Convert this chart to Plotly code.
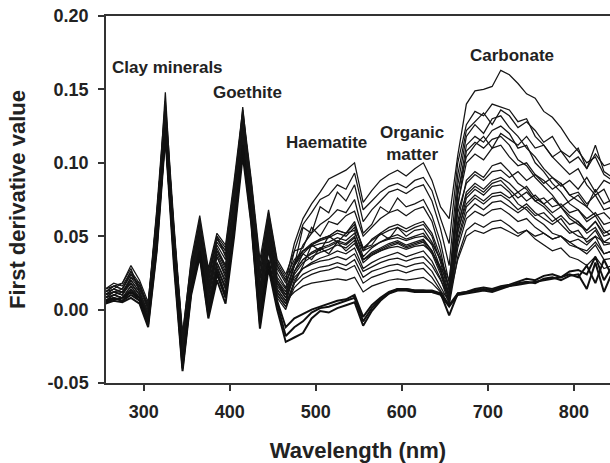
import plotly.graph_objects as go

wavelength = [255, 265, 275, 285, 295, 305, 315, 325, 335, 345, 355, 365, 375, 385, 395,
              405, 415, 425, 435, 445, 455, 465, 475, 485, 495, 505, 515, 525, 535, 545,
              555, 565, 575, 585, 595, 605, 615, 625, 635, 645, 655, 665, 675, 685, 695,
              705, 715, 725, 735, 745, 755, 765, 775, 785, 795, 805, 815, 825, 835, 845]

s01 = [0.012, 0.016, 0.014, 0.024, 0.016, 0.002, 0.062, 0.140, 0.052, -0.020, 0.030, 0.058, 0.022, 0.048, 0.040, 0.085, 0.134, 0.085, 0.030, 0.065, 0.030, 0.020,
       0.045, 0.062, 0.072, 0.080, 0.089, 0.092, 0.095, 0.100, 0.073,
       0.081, 0.088, 0.092, 0.095, 0.091, 0.096, 0.100, 0.088, 0.070, 0.062,
       0.105, 0.140, 0.149, 0.150, 0.152, 0.163, 0.160, 0.154, 0.147, 0.144, 0.135, 0.131, 0.124, 0.115, 0.108, 0.100, 0.104, 0.092, 0.088]
s02 = [0.010, 0.014, 0.018, 0.028, 0.012, -0.004, 0.058, 0.148, 0.048, -0.030, 0.022, 0.052, 0.012, 0.040, 0.030, 0.078, 0.138, 0.080, 0.020, 0.060, 0.025, 0.015,
       0.040, 0.058, 0.066, 0.075, 0.078, 0.085, 0.082, 0.093, 0.068,
       0.074, 0.080, 0.084, 0.086, 0.083, 0.088, 0.090, 0.081, 0.062, 0.045,
       0.100, 0.126, 0.135, 0.132, 0.140, 0.138, 0.136, 0.128, 0.130, 0.118, 0.112, 0.104, 0.098, 0.092, 0.096, 0.085, 0.078, 0.082, 0.070]
s03 = [0.008, 0.012, 0.010, 0.022, 0.018, 0.000, 0.066, 0.132, 0.056, -0.025, 0.028, 0.062, 0.018, 0.050, 0.036, 0.070, 0.128, 0.076, 0.012, 0.056, 0.020, 0.012,
       0.030, 0.056, 0.052, 0.070, 0.066, 0.080, 0.074, 0.085, 0.060,
       0.068, 0.074, 0.080, 0.082, 0.079, 0.083, 0.085, 0.074, 0.055, 0.030,
       0.092, 0.122, 0.128, 0.134, 0.126, 0.136, 0.132, 0.124, 0.128, 0.122, 0.114, 0.118, 0.108, 0.104, 0.110, 0.096, 0.112, 0.094, 0.090]
s04 = [0.006, 0.010, 0.012, 0.018, 0.010, -0.006, 0.050, 0.124, 0.040, -0.035, 0.018, 0.046, 0.008, 0.036, 0.024, 0.066, 0.122, 0.072, 0.008, 0.052, 0.018, 0.010,
       0.030, 0.044, 0.052, 0.058, 0.062, 0.068, 0.066, 0.075, 0.052,
       0.058, 0.070, 0.066, 0.076, 0.070, 0.072, 0.075, 0.064, 0.046, 0.018,
       0.085, 0.118, 0.126, 0.120, 0.130, 0.132, 0.124, 0.118, 0.110, 0.104, 0.096, 0.090, 0.086, 0.078, 0.074, 0.070, 0.064, 0.066, 0.060]
s05 = [0.014, 0.018, 0.016, 0.026, 0.014, 0.004, 0.068, 0.142, 0.058, -0.018, 0.034, 0.064, 0.028, 0.052, 0.044, 0.088, 0.136, 0.088, 0.034, 0.068, 0.034, 0.024,
       0.040, 0.042, 0.056, 0.050, 0.060, 0.058, 0.064, 0.067, 0.050,
       0.056, 0.062, 0.066, 0.068, 0.064, 0.068, 0.070, 0.060, 0.040, 0.012,
       0.078, 0.112, 0.118, 0.114, 0.122, 0.125, 0.120, 0.110, 0.112, 0.100, 0.094, 0.086, 0.080, 0.072, 0.068, 0.060, 0.064, 0.054, 0.050]
s06 = [0.008, 0.010, 0.008, 0.016, 0.008, -0.008, 0.046, 0.120, 0.036, -0.038, 0.014, 0.040, 0.002, 0.028, 0.014, 0.058, 0.112, 0.066, 0.000, 0.044, 0.012, 0.004,
       0.026, 0.038, 0.044, 0.048, 0.050, 0.054, 0.052, 0.060, 0.040,
       0.048, 0.052, 0.056, 0.058, 0.055, 0.058, 0.060, 0.052, 0.036, 0.015,
       0.080, 0.104, 0.112, 0.118, 0.110, 0.120, 0.116, 0.112, 0.118, 0.110, 0.112, 0.104, 0.108, 0.100, 0.104, 0.096, 0.106, 0.098, 0.100]
s07 = [0.012, 0.014, 0.012, 0.020, 0.012, -0.002, 0.056, 0.136, 0.046, -0.028, 0.024, 0.054, 0.016, 0.044, 0.034, 0.074, 0.130, 0.078, 0.016, 0.058, 0.022, 0.014,
       0.030, 0.040, 0.045, 0.048, 0.050, 0.054, 0.052, 0.058, 0.042,
       0.047, 0.051, 0.054, 0.056, 0.053, 0.056, 0.058, 0.050, 0.032, 0.010,
       0.070, 0.108, 0.114, 0.110, 0.116, 0.118, 0.112, 0.102, 0.098, 0.090, 0.084, 0.078, 0.070, 0.064, 0.060, 0.052, 0.056, 0.046, 0.045]
s08 = [0.010, 0.012, 0.014, 0.024, 0.016, 0.002, 0.060, 0.128, 0.050, -0.022, 0.026, 0.056, 0.020, 0.046, 0.038, 0.080, 0.126, 0.082, 0.022, 0.062, 0.028, 0.018,
       0.032, 0.040, 0.044, 0.047, 0.049, 0.052, 0.050, 0.056, 0.042,
       0.044, 0.052, 0.048, 0.056, 0.050, 0.054, 0.055, 0.046, 0.034, 0.014,
       0.072, 0.100, 0.106, 0.102, 0.110, 0.112, 0.104, 0.098, 0.100, 0.092, 0.088, 0.082, 0.086, 0.078, 0.080, 0.072, 0.078, 0.068, 0.070]
s09 = [0.006, 0.008, 0.006, 0.014, 0.006, -0.010, 0.044, 0.116, 0.034, -0.040, 0.012, 0.038, -0.002, 0.024, 0.010, 0.054, 0.108, 0.062, -0.006, 0.040, 0.008, 0.000,
       0.018, 0.030, 0.044, 0.040, 0.050, 0.046, 0.052, 0.054, 0.036,
       0.042, 0.046, 0.049, 0.051, 0.048, 0.050, 0.052, 0.044, 0.028, 0.008,
       0.060, 0.088, 0.094, 0.090, 0.098, 0.100, 0.094, 0.086, 0.082, 0.074, 0.070, 0.064, 0.058, 0.052, 0.054, 0.046, 0.050, 0.038, 0.040]
s10 = [0.014, 0.016, 0.018, 0.030, 0.020, 0.005, 0.064, 0.138, 0.054, -0.016, 0.032, 0.060, 0.026, 0.050, 0.042, 0.084, 0.132, 0.086, 0.028, 0.066, 0.032, 0.022,
       0.034, 0.040, 0.043, 0.045, 0.046, 0.049, 0.047, 0.052, 0.040,
       0.043, 0.046, 0.048, 0.049, 0.047, 0.049, 0.050, 0.045, 0.034, 0.020,
       0.066, 0.086, 0.092, 0.088, 0.094, 0.095, 0.090, 0.094, 0.088, 0.092, 0.086, 0.090, 0.084, 0.088, 0.082, 0.090, 0.080, 0.088, 0.085]
s11 = [0.008, 0.012, 0.010, 0.018, 0.010, -0.004, 0.052, 0.126, 0.044, -0.032, 0.020, 0.050, 0.010, 0.038, 0.026, 0.068, 0.120, 0.070, 0.010, 0.050, 0.016, 0.008,
       0.026, 0.034, 0.039, 0.042, 0.044, 0.047, 0.045, 0.050, 0.034,
       0.039, 0.042, 0.045, 0.047, 0.044, 0.046, 0.048, 0.040, 0.026, 0.006,
       0.056, 0.080, 0.086, 0.082, 0.088, 0.090, 0.086, 0.080, 0.084, 0.076, 0.072, 0.066, 0.070, 0.062, 0.058, 0.054, 0.060, 0.050, 0.052]
s12 = [0.010, 0.014, 0.012, 0.022, 0.014, 0.000, 0.058, 0.130, 0.048, -0.026, 0.026, 0.056, 0.014, 0.042, 0.030, 0.072, 0.124, 0.074, 0.014, 0.054, 0.020, 0.010,
       0.026, 0.034, 0.038, 0.041, 0.043, 0.046, 0.044, 0.049, 0.034,
       0.038, 0.041, 0.044, 0.046, 0.043, 0.045, 0.047, 0.040, 0.027, 0.010,
       0.058, 0.078, 0.084, 0.080, 0.086, 0.088, 0.082, 0.076, 0.080, 0.074, 0.076, 0.070, 0.072, 0.066, 0.068, 0.062, 0.066, 0.058, 0.060]
s13 = [0.006, 0.010, 0.008, 0.016, 0.008, -0.006, 0.048, 0.122, 0.040, -0.034, 0.016, 0.044, 0.006, 0.032, 0.020, 0.062, 0.116, 0.068, 0.004, 0.046, 0.014, 0.006,
       0.024, 0.032, 0.036, 0.039, 0.041, 0.044, 0.042, 0.047, 0.032,
       0.037, 0.040, 0.043, 0.045, 0.042, 0.044, 0.046, 0.038, 0.024, 0.006,
       0.052, 0.076, 0.082, 0.078, 0.084, 0.085, 0.080, 0.072, 0.068, 0.062, 0.058, 0.052, 0.050, 0.046, 0.042, 0.038, 0.044, 0.034, 0.035]
s14 = [0.012, 0.016, 0.014, 0.026, 0.018, 0.003, 0.062, 0.134, 0.052, -0.020, 0.030, 0.058, 0.024, 0.048, 0.040, 0.082, 0.128, 0.080, 0.024, 0.064, 0.030, 0.020,
       0.030, 0.038, 0.034, 0.042, 0.038, 0.046, 0.040, 0.045, 0.034,
       0.037, 0.040, 0.042, 0.043, 0.041, 0.043, 0.044, 0.039, 0.029, 0.016,
       0.054, 0.072, 0.078, 0.074, 0.079, 0.080, 0.076, 0.080, 0.074, 0.078, 0.072, 0.076, 0.070, 0.074, 0.078, 0.070, 0.082, 0.072, 0.075]
s15 = [0.004, 0.008, 0.006, 0.012, 0.006, -0.008, 0.044, 0.118, 0.036, -0.036, 0.014, 0.040, 0.002, 0.028, 0.016, 0.058, 0.110, 0.064, -0.004, 0.042, 0.010, 0.002,
       0.020, 0.028, 0.032, 0.035, 0.037, 0.040, 0.038, 0.042, 0.028,
       0.032, 0.035, 0.037, 0.039, 0.036, 0.038, 0.040, 0.033, 0.021, 0.004,
       0.048, 0.070, 0.076, 0.072, 0.077, 0.078, 0.074, 0.068, 0.072, 0.066, 0.062, 0.058, 0.062, 0.054, 0.050, 0.048, 0.054, 0.044, 0.045]
s16 = [0.010, 0.012, 0.010, 0.020, 0.012, -0.002, 0.054, 0.128, 0.046, -0.030, 0.022, 0.050, 0.012, 0.040, 0.028, 0.070, 0.122, 0.072, 0.012, 0.052, 0.018, 0.008,
       0.022, 0.028, 0.031, 0.033, 0.034, 0.036, 0.034, 0.038, 0.026,
       0.029, 0.032, 0.034, 0.035, 0.033, 0.035, 0.036, 0.030, 0.020, 0.008,
       0.046, 0.066, 0.072, 0.068, 0.073, 0.074, 0.070, 0.066, 0.070, 0.064, 0.066, 0.060, 0.064, 0.058, 0.060, 0.054, 0.060, 0.052, 0.055]
s17 = [0.008, 0.010, 0.008, 0.014, 0.008, -0.006, 0.048, 0.124, 0.040, -0.034, 0.018, 0.044, 0.004, 0.032, 0.018, 0.060, 0.114, 0.066, 0.002, 0.044, 0.012, 0.004,
       0.018, 0.024, 0.027, 0.029, 0.030, 0.032, 0.030, 0.034, 0.022,
       0.026, 0.028, 0.030, 0.031, 0.029, 0.031, 0.032, 0.026, 0.016, 0.005,
       0.042, 0.062, 0.067, 0.064, 0.068, 0.069, 0.065, 0.060, 0.062, 0.056, 0.052, 0.048, 0.050, 0.044, 0.042, 0.040, 0.046, 0.038, 0.040]
s18 = [0.006, 0.008, 0.006, 0.012, 0.006, -0.008, 0.046, 0.120, 0.038, -0.036, 0.016, 0.042, 0.002, 0.030, 0.014, 0.056, 0.112, 0.064, 0.000, 0.042, 0.010, 0.002,
       0.015, 0.021, 0.024, 0.026, 0.027, 0.029, 0.027, 0.030, 0.018,
       0.022, 0.024, 0.026, 0.027, 0.025, 0.027, 0.028, 0.022, 0.013, 0.003,
       0.036, 0.054, 0.059, 0.056, 0.060, 0.061, 0.057, 0.052, 0.054, 0.048, 0.044, 0.040, 0.042, 0.036, 0.034, 0.030, 0.036, 0.028, 0.030]
s19 = [0.010, 0.012, 0.012, 0.018, 0.010, -0.002, 0.052, 0.126, 0.044, -0.030, 0.020, 0.048, 0.010, 0.036, 0.022, 0.064, 0.118, 0.070, 0.006, 0.048, 0.014, 0.006,
       0.012, 0.016, 0.018, 0.019, 0.020, 0.021, 0.020, 0.022, 0.012,
       0.016, 0.018, 0.020, 0.021, 0.020, 0.021, 0.022, 0.018, 0.012, 0.008,
       0.034, 0.050, 0.054, 0.052, 0.055, 0.056, 0.053, 0.050, 0.054, 0.050, 0.052, 0.048, 0.050, 0.046, 0.048, 0.044, 0.050, 0.046, 0.050]

low1 = [0.004, 0.006, 0.005, 0.008, 0.004, -0.012, 0.040, 0.118, 0.030, -0.042, 0.010, 0.036, -0.006, 0.020, 0.004, 0.050, 0.105, 0.058, -0.013, 0.028, 0.000, -0.022,
        -0.019, -0.016, -0.006, -0.001, -0.002, 0.001, 0.003, 0.005, -0.011,
        -0.001, 0.006, 0.011, 0.014, 0.014, 0.013, 0.013, 0.012, 0.011, -0.004,
        0.011, 0.012, 0.013, 0.014, 0.013, 0.015, 0.016, 0.018, 0.019, 0.018, 0.021, 0.022, 0.020, 0.023, 0.024, 0.014, 0.032, 0.012, 0.026]
low2 = [0.006, 0.008, 0.006, 0.010, 0.006, -0.010, 0.042, 0.122, 0.034, -0.040, 0.012, 0.038, -0.004, 0.024, 0.008, 0.054, 0.110, 0.060, -0.010, 0.032, 0.004, -0.018,
        -0.012, -0.008, -0.002, 0.001, 0.002, 0.004, 0.006, 0.008, -0.008,
        0.001, 0.007, 0.011, 0.013, 0.013, 0.012, 0.012, 0.012, 0.010, 0.002,
        0.010, 0.011, 0.012, 0.013, 0.012, 0.014, 0.016, 0.017, 0.018, 0.019, 0.020, 0.021, 0.022, 0.024, 0.022, 0.030, 0.018, 0.034, 0.022]
low3 = [0.005, 0.007, 0.008, 0.012, 0.008, -0.008, 0.044, 0.124, 0.036, -0.038, 0.014, 0.040, -0.002, 0.026, 0.010, 0.056, 0.112, 0.062, -0.008, 0.034, 0.006, -0.012,
        -0.006, -0.003, 0.000, 0.002, 0.004, 0.006, 0.007, 0.010, -0.005,
        0.003, 0.008, 0.012, 0.014, 0.014, 0.013, 0.013, 0.013, 0.011, 0.003,
        0.011, 0.012, 0.014, 0.015, 0.014, 0.016, 0.017, 0.019, 0.021, 0.020, 0.023, 0.024, 0.022, 0.026, 0.027, 0.024, 0.036, 0.020, 0.030]

upper_series = [s01, s02, s03, s04, s05, s06, s07, s08, s09, s10,
                s11, s12, s13, s14, s15, s16, s17, s18, s19]
lower_series = [low1, low2, low3]

x_ticks = [300, 400, 500, 600, 700, 800]
y_ticks = [-0.05, 0.00, 0.05, 0.10, 0.15, 0.20]
y_tick_text = ["-0.05", "0.00", "0.05", "0.10", "0.15", "0.20"]

labels = ["Clay minerals", "Goethite", "Haematite", "Organic<br>matter", "Carbonate"]
label_x = [327, 420, 512, 612, 728]
label_y = [0.165, 0.148, 0.1135, 0.113, 0.173]

FONT = "Arial, Liberation Sans, sans-serif"

fig = go.Figure()
for s in upper_series:
    fig.add_trace(go.Scatter(x=wavelength, y=s, mode="lines",
                             line=dict(color="#151515", width=1.25),
                             showlegend=False, hoverinfo="skip"))
for s in lower_series:
    fig.add_trace(go.Scatter(x=wavelength, y=s, mode="lines",
                             line=dict(color="#101010", width=2.0),
                             showlegend=False, hoverinfo="skip"))

for t, x, y in zip(labels, label_x, label_y):
    fig.add_annotation(x=x, y=y, text="<b>" + t + "</b>", showarrow=False,
                       font=dict(family=FONT, size=17, color="#222"),
                       align="center")

fig.update_layout(
    width=610, height=463,
    margin=dict(l=106, r=0, t=16, b=80),
    paper_bgcolor="white", plot_bgcolor="white",
    font=dict(family=FONT, color="#222"),
)
fig.update_xaxes(
    range=[256, 842], tickvals=x_ticks, ticks="outside", ticklen=6, tickwidth=1.5,
    tickcolor="#333", showline=True, linewidth=1.5, linecolor="#333", mirror=True,
    showgrid=False, zeroline=False, ticklabelstandoff=6,
    tickfont=dict(family=FONT, size=18, color="#222", weight="bold"),
    title=dict(text="<b>Wavelength (nm)</b>", font=dict(family=FONT, size=22, color="#222"), standoff=22),
)
fig.update_yaxes(
    range=[-0.05, 0.20], tickvals=y_ticks, ticktext=y_tick_text, ticks="outside",
    ticklen=6, tickwidth=1.5, tickcolor="#333", showline=True, linewidth=1.5,
    linecolor="#333", mirror=False, showgrid=False, zeroline=False, ticklabelstandoff=6,
    tickfont=dict(family=FONT, size=18, color="#222", weight="bold"),
    title=dict(text="<b>First derivative value</b>", font=dict(family=FONT, size=22, color="#222"), standoff=16),
)

fig.write_html("out.html", config={"displayModeBar": False},
               post_script="document.body.style.margin='0';")
